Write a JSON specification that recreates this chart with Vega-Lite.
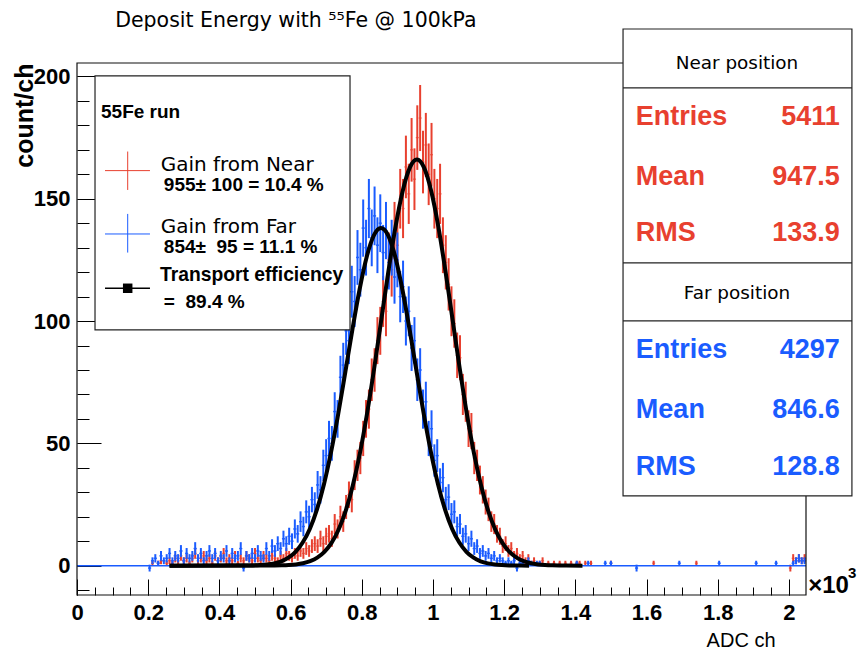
{
"$schema":"https://vega.github.io/schema/vega-lite/v6.json",
"width":729,"height":532,
"autosize":{"type":"none"},
"padding":{"left":77,"top":63,"right":52,"bottom":59},
"background":"white",
"config":{"view":{"stroke":null}},
"resolve":{"axis":{"x":"independent","y":"independent"}},
"datasets":{
"near":[
{"x":212,"y":1,"e":1},{"x":228,"y":1,"e":1},{"x":236,"y":2,"e":1.4},{"x":252,"y":1,"e":1},{"x":260,"y":2,"e":1.4},{"x":268,"y":1,"e":1},{"x":276,"y":3,"e":1.7},{"x":284,"y":2,"e":1.4},{"x":292,"y":4,"e":2},{"x":300,"y":2,"e":1.4},{"x":308,"y":3,"e":1.7},{"x":316,"y":1,"e":1},{"x":324,"y":3,"e":1.7},{"x":332,"y":5,"e":2.2},{"x":340,"y":2,"e":1.4},{"x":348,"y":3,"e":1.7},{"x":356,"y":4,"e":2},{"x":364,"y":2,"e":1.4},{"x":372,"y":3,"e":1.7},{"x":380,"y":1,"e":1},{"x":388,"y":4,"e":2},{"x":396,"y":2,"e":1.4},{"x":404,"y":3,"e":1.7},{"x":412,"y":5,"e":2.2},{"x":420,"y":2,"e":1.4},{"x":428,"y":3,"e":1.7},{"x":436,"y":2,"e":1.4},{"x":444,"y":4,"e":2},{"x":452,"y":1,"e":1},{"x":460,"y":3,"e":1.7},{"x":468,"y":2,"e":1.4},{"x":476,"y":4,"e":2},{"x":484,"y":3,"e":1.7},{"x":492,"y":2,"e":1.4},{"x":500,"y":5,"e":2.2},{"x":508,"y":3,"e":1.7},{"x":516,"y":2,"e":1.4},{"x":524,"y":4,"e":2},{"x":532,"y":3,"e":1.7},{"x":540,"y":2,"e":1.4},{"x":548,"y":4,"e":2},{"x":556,"y":3,"e":1.7},{"x":564,"y":2,"e":1.4},{"x":572,"y":4,"e":2},{"x":580,"y":3,"e":1.7},{"x":588,"y":5,"e":2.2},{"x":596,"y":4,"e":2},{"x":604,"y":3,"e":1.7},{"x":612,"y":5,"e":2.2},{"x":620,"y":4,"e":2},{"x":628,"y":6,"e":2.4},{"x":636,"y":5,"e":2.2},{"x":644,"y":7,"e":2.6},{"x":652,"y":6,"e":2.4},{"x":660,"y":8,"e":2.8},{"x":668,"y":9,"e":3},{"x":676,"y":8,"e":2.8},{"x":684,"y":11,"e":3.3},{"x":692,"y":9,"e":3},{"x":700,"y":12,"e":3.5},{"x":708,"y":13,"e":3.6},{"x":716,"y":11,"e":3.3},{"x":724,"y":17,"e":4.1},{"x":732,"y":15,"e":3.9},{"x":740,"y":20,"e":4.5},{"x":748,"y":18,"e":4.2},{"x":756,"y":24,"e":4.9},{"x":764,"y":29,"e":5.4},{"x":772,"y":27,"e":5.2},{"x":780,"y":37,"e":6.1},{"x":788,"y":41,"e":6.4},{"x":796,"y":44,"e":6.6},{"x":804,"y":52,"e":7.2},{"x":812,"y":60,"e":7.7},{"x":820,"y":64,"e":8},{"x":828,"y":76,"e":8.7},{"x":836,"y":80,"e":8.9},{"x":844,"y":92,"e":9.6},{"x":852,"y":96,"e":9.8},{"x":860,"y":108,"e":10.4},{"x":868,"y":104,"e":10.2},{"x":876,"y":125,"e":11.2},{"x":884,"y":121,"e":11},{"x":892,"y":137,"e":11.7},{"x":900,"y":131,"e":11.4},{"x":908,"y":150,"e":12.2},{"x":916,"y":146,"e":12.1},{"x":924,"y":163,"e":12.8},{"x":932,"y":152,"e":12.3},{"x":940,"y":170,"e":13},{"x":948,"y":158,"e":12.6},{"x":956,"y":175,"e":13.2},{"x":964,"y":183,"e":13.5},{"x":972,"y":165,"e":12.8},{"x":980,"y":172,"e":13.1},{"x":988,"y":160,"e":12.6},{"x":996,"y":168,"e":13},{"x":1004,"y":150,"e":12.2},{"x":1012,"y":146,"e":12.1},{"x":1020,"y":152,"e":12.3},{"x":1028,"y":131,"e":11.4},{"x":1036,"y":124,"e":11.1},{"x":1044,"y":115,"e":10.7},{"x":1052,"y":104,"e":10.2},{"x":1060,"y":99,"e":9.9},{"x":1068,"y":86,"e":9.3},{"x":1076,"y":85,"e":9.2},{"x":1084,"y":70,"e":8.4},{"x":1092,"y":67,"e":8.2},{"x":1100,"y":56,"e":7.5},{"x":1108,"y":55,"e":7.4},{"x":1116,"y":44,"e":6.6},{"x":1124,"y":41,"e":6.4},{"x":1132,"y":35,"e":5.9},{"x":1140,"y":31,"e":5.6},{"x":1148,"y":26,"e":5.1},{"x":1156,"y":23,"e":4.8},{"x":1164,"y":18,"e":4.2},{"x":1172,"y":17,"e":4.1},{"x":1180,"y":13,"e":3.6},{"x":1188,"y":12,"e":3.5},{"x":1196,"y":8,"e":2.8},{"x":1204,"y":9,"e":3},{"x":1212,"y":6,"e":2.4},{"x":1220,"y":7,"e":2.6},{"x":1228,"y":4,"e":2},{"x":1236,"y":5,"e":2.2},{"x":1244,"y":3,"e":1.7},{"x":1252,"y":4,"e":2},{"x":1260,"y":2,"e":1.4},{"x":1268,"y":3,"e":1.7},{"x":1276,"y":1,"e":1},{"x":1284,"y":2,"e":1.4},{"x":1300,"y":1,"e":1},{"x":1308,"y":2,"e":1.4},{"x":1324,"y":1,"e":1},{"x":1340,"y":1,"e":1},{"x":1356,"y":1,"e":1},{"x":1372,"y":1,"e":1},{"x":1388,"y":1,"e":1},{"x":1404,"y":1,"e":1},{"x":1412,"y":1,"e":1},{"x":1428,"y":1,"e":1},{"x":1444,"y":1,"e":1},{"x":1500,"y":1,"e":1},{"x":1620,"y":1,"e":1},{"x":1740,"y":1,"e":1},{"x":2004,"y":-1,"e":1.4},{"x":2012,"y":3,"e":1.7},{"x":2020,"y":2,"e":1.4},{"x":2028,"y":3,"e":1.7},{"x":2036,"y":2,"e":1.4},{"x":2044,"y":3,"e":1.7}
],
"far":[
{"x":204,"y":-1,"e":1.4},{"x":212,"y":2,"e":1.4},{"x":220,"y":3,"e":1.7},{"x":228,"y":1,"e":1},{"x":236,"y":4,"e":2},{"x":244,"y":2,"e":1.4},{"x":252,"y":3,"e":1.7},{"x":260,"y":5,"e":2.2},{"x":268,"y":2,"e":1.4},{"x":276,"y":4,"e":2},{"x":284,"y":3,"e":1.7},{"x":292,"y":6,"e":2.4},{"x":300,"y":2,"e":1.4},{"x":308,"y":5,"e":2.2},{"x":316,"y":3,"e":1.7},{"x":324,"y":4,"e":2},{"x":332,"y":7,"e":2.6},{"x":340,"y":3,"e":1.7},{"x":348,"y":5,"e":2.2},{"x":356,"y":2,"e":1.4},{"x":364,"y":4,"e":2},{"x":372,"y":6,"e":2.4},{"x":380,"y":3,"e":1.7},{"x":388,"y":5,"e":2.2},{"x":396,"y":2,"e":1.4},{"x":404,"y":4,"e":2},{"x":412,"y":3,"e":1.7},{"x":420,"y":6,"e":2.4},{"x":428,"y":2,"e":1.4},{"x":436,"y":5,"e":2.2},{"x":444,"y":3,"e":1.7},{"x":452,"y":4,"e":2},{"x":460,"y":7,"e":2.6},{"x":468,"y":-1,"e":1.4},{"x":476,"y":4,"e":2},{"x":484,"y":3,"e":1.7},{"x":492,"y":5,"e":2.2},{"x":500,"y":3,"e":1.7},{"x":508,"y":6,"e":2.4},{"x":516,"y":4,"e":2},{"x":524,"y":3,"e":1.7},{"x":532,"y":7,"e":2.6},{"x":540,"y":4,"e":2},{"x":548,"y":8,"e":2.8},{"x":556,"y":6,"e":2.4},{"x":564,"y":9,"e":3},{"x":572,"y":7,"e":2.6},{"x":580,"y":11,"e":3.3},{"x":588,"y":9,"e":3},{"x":596,"y":12,"e":3.5},{"x":604,"y":10,"e":3.2},{"x":612,"y":15,"e":3.9},{"x":620,"y":13,"e":3.6},{"x":628,"y":18,"e":4.2},{"x":636,"y":16,"e":4},{"x":644,"y":22,"e":4.7},{"x":652,"y":20,"e":4.5},{"x":660,"y":27,"e":5.2},{"x":668,"y":25,"e":5},{"x":676,"y":33,"e":5.7},{"x":684,"y":31,"e":5.6},{"x":692,"y":41,"e":6.4},{"x":700,"y":45,"e":6.7},{"x":708,"y":52,"e":7.2},{"x":716,"y":50,"e":7.1},{"x":724,"y":63,"e":7.9},{"x":732,"y":60,"e":7.7},{"x":740,"y":77,"e":8.8},{"x":748,"y":82,"e":9.1},{"x":756,"y":96,"e":9.8},{"x":764,"y":92,"e":9.6},{"x":772,"y":112,"e":10.6},{"x":780,"y":108,"e":10.4},{"x":788,"y":126,"e":11.2},{"x":796,"y":121,"e":11},{"x":804,"y":138,"e":11.7},{"x":812,"y":130,"e":11.4},{"x":820,"y":146,"e":12.1},{"x":828,"y":134,"e":11.6},{"x":836,"y":143,"e":12},{"x":844,"y":131,"e":11.4},{"x":852,"y":140,"e":11.8},{"x":860,"y":128,"e":11.3},{"x":868,"y":137,"e":11.7},{"x":876,"y":124,"e":11.1},{"x":884,"y":130,"e":11.4},{"x":892,"y":118,"e":10.9},{"x":900,"y":125,"e":11.2},{"x":908,"y":110,"e":10.5},{"x":916,"y":114,"e":10.7},{"x":924,"y":100,"e":10},{"x":932,"y":104,"e":10.2},{"x":940,"y":89,"e":9.4},{"x":948,"y":92,"e":9.6},{"x":956,"y":76,"e":8.7},{"x":964,"y":80,"e":8.9},{"x":972,"y":64,"e":8},{"x":980,"y":67,"e":8.2},{"x":988,"y":52,"e":7.2},{"x":996,"y":56,"e":7.5},{"x":1004,"y":43,"e":6.6},{"x":1012,"y":45,"e":6.7},{"x":1020,"y":34,"e":5.8},{"x":1028,"y":36,"e":6},{"x":1036,"y":27,"e":5.2},{"x":1044,"y":28,"e":5.3},{"x":1052,"y":21,"e":4.6},{"x":1060,"y":22,"e":4.7},{"x":1068,"y":16,"e":4},{"x":1076,"y":17,"e":4.1},{"x":1084,"y":12,"e":3.5},{"x":1092,"y":13,"e":3.6},{"x":1100,"y":9,"e":3},{"x":1108,"y":11,"e":3.3},{"x":1116,"y":7,"e":2.6},{"x":1124,"y":8,"e":2.8},{"x":1132,"y":5,"e":2.2},{"x":1140,"y":6,"e":2.4},{"x":1148,"y":4,"e":2},{"x":1156,"y":5,"e":2.2},{"x":1164,"y":3,"e":1.7},{"x":1172,"y":4,"e":2},{"x":1180,"y":2,"e":1.4},{"x":1188,"y":3,"e":1.7},{"x":1196,"y":2,"e":1.4},{"x":1204,"y":1,"e":1},{"x":1212,"y":2,"e":1.4},{"x":1220,"y":1,"e":1},{"x":1228,"y":2,"e":1.4},{"x":1236,"y":-1,"e":1.4},{"x":1244,"y":1,"e":1},{"x":1252,"y":1,"e":1},{"x":1268,"y":2,"e":1.4},{"x":1276,"y":1,"e":1},{"x":1292,"y":1,"e":1},{"x":1300,"y":1,"e":1},{"x":1404,"y":1,"e":1},{"x":1436,"y":1,"e":1},{"x":1484,"y":1,"e":1},{"x":1500,"y":1,"e":1},{"x":1572,"y":-1,"e":1.4},{"x":1692,"y":1,"e":1},{"x":1804,"y":1,"e":1},{"x":1908,"y":1,"e":1},{"x":1964,"y":1,"e":1},{"x":2012,"y":1,"e":1},{"x":2020,"y":2,"e":1.4},{"x":2028,"y":3,"e":1.7},{"x":2036,"y":2,"e":1.4},{"x":2044,"y":2,"e":1.4}
],
"fits":[
{"s":"Near","x":260,"y":0},{"s":"Near","x":555,"y":0.06},{"s":"Near","x":575,"y":0.12},{"s":"Near","x":595,"y":0.25},{"s":"Near","x":615,"y":0.51},{"s":"Near","x":635,"y":0.99},{"s":"Near","x":655,"y":1.84},{"s":"Near","x":675,"y":3.29},{"s":"Near","x":695,"y":5.65},{"s":"Near","x":715,"y":9.3},{"s":"Near","x":735,"y":14.8},{"s":"Near","x":755,"y":22.5},{"s":"Near","x":775,"y":32.9},{"s":"Near","x":795,"y":46.1},{"s":"Near","x":815,"y":62.3},{"s":"Near","x":835,"y":80.8},{"s":"Near","x":855,"y":100.7},{"s":"Near","x":875,"y":120.5},{"s":"Near","x":895,"y":138.7},{"s":"Near","x":915,"y":153.2},{"s":"Near","x":935,"y":162.7},{"s":"Near","x":955,"y":166},{"s":"Near","x":975,"y":162.7},{"s":"Near","x":995,"y":153.2},{"s":"Near","x":1015,"y":138.7},{"s":"Near","x":1035,"y":120.5},{"s":"Near","x":1055,"y":100.7},{"s":"Near","x":1075,"y":80.8},{"s":"Near","x":1095,"y":62.3},{"s":"Near","x":1115,"y":46.1},{"s":"Near","x":1135,"y":32.9},{"s":"Near","x":1155,"y":22.5},{"s":"Near","x":1175,"y":14.8},{"s":"Near","x":1195,"y":9.3},{"s":"Near","x":1215,"y":5.65},{"s":"Near","x":1235,"y":3.29},{"s":"Near","x":1255,"y":1.84},{"s":"Near","x":1275,"y":0.99},{"s":"Near","x":1295,"y":0.51},{"s":"Near","x":1315,"y":0.25},{"s":"Near","x":1335,"y":0.12},{"s":"Near","x":1355,"y":0.06},{"s":"Near","x":1420,"y":0},
{"s":"Far","x":260,"y":0},{"s":"Far","x":474,"y":0.05},{"s":"Far","x":494,"y":0.1},{"s":"Far","x":514,"y":0.23},{"s":"Far","x":534,"y":0.47},{"s":"Far","x":554,"y":0.94},{"s":"Far","x":574,"y":1.79},{"s":"Far","x":594,"y":3.26},{"s":"Far","x":614,"y":5.67},{"s":"Far","x":634,"y":9.45},{"s":"Far","x":654,"y":15},{"s":"Far","x":674,"y":22.9},{"s":"Far","x":694,"y":33.4},{"s":"Far","x":714,"y":46.6},{"s":"Far","x":734,"y":62.1},{"s":"Far","x":754,"y":79.3},{"s":"Far","x":774,"y":96.8},{"s":"Far","x":794,"y":113},{"s":"Far","x":814,"y":126.3},{"s":"Far","x":834,"y":135},{"s":"Far","x":854,"y":138},{"s":"Far","x":874,"y":135},{"s":"Far","x":894,"y":126.3},{"s":"Far","x":914,"y":113},{"s":"Far","x":934,"y":96.8},{"s":"Far","x":954,"y":79.3},{"s":"Far","x":974,"y":62.1},{"s":"Far","x":994,"y":46.6},{"s":"Far","x":1014,"y":33.4},{"s":"Far","x":1034,"y":22.9},{"s":"Far","x":1054,"y":15},{"s":"Far","x":1074,"y":9.45},{"s":"Far","x":1094,"y":5.67},{"s":"Far","x":1114,"y":3.26},{"s":"Far","x":1134,"y":1.79},{"s":"Far","x":1154,"y":0.94},{"s":"Far","x":1174,"y":0.47},{"s":"Far","x":1194,"y":0.23},{"s":"Far","x":1214,"y":0.1},{"s":"Far","x":1234,"y":0.05},{"s":"Far","x":1270,"y":0}
]
},
"layer":[
{"data":{"name":"near"},"mark":{"type":"tick","orient":"horizontal","size":3,"thickness":1.3,"color":"#e8402f"},
 "encoding":{
  "x":{"field":"x","type":"quantitative","scale":{"domain":[0,2048],"nice":false,"zero":false},
   "axis":{"orient":"bottom","values":[0,200,400,600,800,1000,1200,1400,1600,1800,2000],
    "labelExpr":"'' + datum.value/1000",
    "tickSize":-16,"tickColor":"#000","tickWidth":1,"domain":false,"grid":false,
    "labelFont":"Liberation Sans","labelFontSize":22,"labelFontWeight":"bold","labelColor":"#000","labelPadding":23.5,
    "labelFlush":false,"labelOverlap":false,"labelBound":false,
    "title":"ADC ch","titleFont":"Liberation Sans","titleFontSize":20,"titleFontWeight":"normal","titleColor":"#000",
    "titleAlign":"right","titleBaseline":"middle","titleX":698,"titleY":45}},
  "y":{"field":"y","type":"quantitative","scale":{"domain":[-12,205.5],"nice":false,"zero":false},
   "axis":{"orient":"left","values":[0,50,100,150,200],
    "tickSize":-24,"tickColor":"#000","tickWidth":1,"domain":false,"grid":false,
    "labelFont":"Liberation Sans","labelFontSize":22,"labelFontWeight":"bold","labelColor":"#000","labelPadding":31,
    "labelOverlap":false,"labelBound":false,"labelFlush":false,
    "title":"count/ch","titleFont":"Liberation Sans","titleFontSize":25,"titleFontWeight":"bold","titleColor":"#000",
    "titleAnchor":"end","titleBaseline":"alphabetic","titlePadding":1}}}},
{"data":{"name":"far"},"mark":{"type":"tick","orient":"horizontal","size":3,"thickness":1.3,"color":"#1a5cff"},
 "encoding":{
  "x":{"field":"x","type":"quantitative",
   "axis":{"orient":"bottom","values":[0,50,100,150,200,250,300,350,400,450,500,550,600,650,700,750,800,850,900,950,1000,1050,1100,1150,1200,1250,1300,1350,1400,1450,1500,1550,1600,1650,1700,1750,1800,1850,1900,1950,2000],
    "tickSize":-8,"tickColor":"#000","tickWidth":1,"domain":false,"grid":false,"labels":false,"title":null}},
  "y":{"field":"y","type":"quantitative",
   "axis":{"orient":"left","values":[-10,0,10,20,30,40,50,60,70,80,90,100,110,120,130,140,150,160,170,180,190,200],
    "tickSize":-12,"tickColor":"#000","tickWidth":1,"domain":false,"grid":false,"labels":false,"title":null}}}},
{"data":{"name":"near"},"mark":{"type":"errorbar","color":"#e8402f","thickness":2},
 "encoding":{"x":{"field":"x","type":"quantitative","axis":null},"y":{"field":"y","type":"quantitative","axis":null},"yError":{"field":"e"}}},
{"data":{"values":[{}]},"mark":{"type":"rule","color":"#1a5cff","strokeWidth":1.5},
 "encoding":{"x":{"datum":0,"type":"quantitative","axis":null},"x2":{"datum":2048},"y":{"datum":0,"type":"quantitative","axis":null}}},
{"data":{"name":"far"},"mark":{"type":"errorbar","color":"#1a5cff","thickness":2},
 "encoding":{"x":{"field":"x","type":"quantitative","axis":null},"y":{"field":"y","type":"quantitative","axis":null},"yError":{"field":"e"}}},
{"data":{"name":"far"},"mark":{"type":"tick","orient":"horizontal","size":3,"thickness":1.3,"color":"#1a5cff"},
 "encoding":{"x":{"field":"x","type":"quantitative","axis":null},"y":{"field":"y","type":"quantitative","axis":null}}},
{"data":{"name":"fits"},"mark":{"type":"line","color":"#000","strokeWidth":4,"interpolate":"monotone"},
 "encoding":{"x":{"field":"x","type":"quantitative","axis":null},"y":{"field":"y","type":"quantitative","axis":null},"detail":{"field":"s"}}},
{"data":{"values":[{}]},"mark":{"type":"rect","fill":"#fff","fillOpacity":0,"stroke":"#111","strokeWidth":1.2},
 "encoding":{"x":{"datum":0,"type":"quantitative","axis":null},"x2":{"datum":2048},"y":{"datum":-12,"type":"quantitative","axis":null},"y2":{"datum":205.5}}},
{"data":{"values":[{}]},"mark":{"type":"text","text":"Deposit Energy with ⁵⁵Fe @ 100kPa","font":"DejaVu Sans","fontSize":20.5,"color":"#000","align":"center","baseline":"middle"},
 "encoding":{"x":{"datum":615,"type":"quantitative","axis":null},"y":{"datum":222.8,"type":"quantitative","axis":null}}},
{"data":{"values":[{}]},"mark":{"type":"rect","fill":"#fff","stroke":"#222","strokeWidth":1.2},
 "encoding":{"x":{"datum":50.6,"type":"quantitative","axis":null},"x2":{"datum":767},"y":{"datum":96.4,"type":"quantitative","axis":null},"y2":{"datum":200.2}}},
{"data":{"values":[{}]},"mark":{"type":"text","text":"55Fe run","font":"Liberation Sans","fontSize":19,"fontWeight":"bold","color":"#000","align":"left","baseline":"middle"},
 "encoding":{"x":{"datum":67.4,"type":"quantitative","axis":null},"y":{"datum":185.5,"type":"quantitative","axis":null}}},
{"data":{"values":[{}]},"mark":{"type":"rule","color":"#e8402f","strokeWidth":1},
 "encoding":{"x":{"datum":78.7,"type":"quantitative","axis":null},"x2":{"datum":205},"y":{"datum":161.5,"type":"quantitative","axis":null}}},
{"data":{"values":[{}]},"mark":{"type":"rule","color":"#e8402f","strokeWidth":1},
 "encoding":{"x":{"datum":142.4,"type":"quantitative","axis":null},"y":{"datum":153.6,"type":"quantitative","axis":null},"y2":{"datum":169.3}}},
{"data":{"values":[{}]},"mark":{"type":"text","text":"Gain from Near","font":"DejaVu Sans","fontSize":20,"color":"#000","align":"left","baseline":"middle"},
 "encoding":{"x":{"datum":235,"type":"quantitative","axis":null},"y":{"datum":163.8,"type":"quantitative","axis":null}}},
{"data":{"values":[{}]},"mark":{"type":"text","text":"955± 100 = 10.4 %","font":"Liberation Sans","fontSize":19,"fontWeight":"bold","color":"#000","align":"left","baseline":"middle"},
 "encoding":{"x":{"datum":244,"type":"quantitative","axis":null},"y":{"datum":155.6,"type":"quantitative","axis":null}}},
{"data":{"values":[{}]},"mark":{"type":"rule","color":"#1a5cff","strokeWidth":1},
 "encoding":{"x":{"datum":78.7,"type":"quantitative","axis":null},"x2":{"datum":205},"y":{"datum":135.6,"type":"quantitative","axis":null}}},
{"data":{"values":[{}]},"mark":{"type":"rule","color":"#1a5cff","strokeWidth":1},
 "encoding":{"x":{"datum":142.4,"type":"quantitative","axis":null},"y":{"datum":128,"type":"quantitative","axis":null},"y2":{"datum":143.8}}},
{"data":{"values":[{}]},"mark":{"type":"text","text":"Gain from Far","font":"DejaVu Sans","fontSize":20,"color":"#000","align":"left","baseline":"middle"},
 "encoding":{"x":{"datum":235,"type":"quantitative","axis":null},"y":{"datum":138.6,"type":"quantitative","axis":null}}},
{"data":{"values":[{}]},"mark":{"type":"text","text":"854±\u00a0\u00a095 = 11.1 %","font":"Liberation Sans","fontSize":19,"fontWeight":"bold","color":"#000","align":"left","baseline":"middle"},
 "encoding":{"x":{"datum":244,"type":"quantitative","axis":null},"y":{"datum":130.4,"type":"quantitative","axis":null}}},
{"data":{"values":[{}]},"mark":{"type":"rule","color":"#000","strokeWidth":1.5},
 "encoding":{"x":{"datum":78.7,"type":"quantitative","axis":null},"x2":{"datum":205},"y":{"datum":113.4,"type":"quantitative","axis":null}}},
{"data":{"values":[{}]},"mark":{"type":"point","shape":"square","filled":true,"size":90,"color":"#000","opacity":1},
 "encoding":{"x":{"datum":142.4,"type":"quantitative","axis":null},"y":{"datum":113.4,"type":"quantitative","axis":null}}},
{"data":{"values":[{}]},"mark":{"type":"text","text":"Transport efficiency","font":"Liberation Sans","fontSize":19.3,"fontWeight":"bold","color":"#000","align":"left","baseline":"middle"},
 "encoding":{"x":{"datum":233,"type":"quantitative","axis":null},"y":{"datum":118.8,"type":"quantitative","axis":null}}},
{"data":{"values":[{}]},"mark":{"type":"text","text":"=\u00a0\u00a089.4 %","font":"Liberation Sans","fontSize":19,"fontWeight":"bold","color":"#000","align":"left","baseline":"middle"},
 "encoding":{"x":{"datum":244,"type":"quantitative","axis":null},"y":{"datum":107.9,"type":"quantitative","axis":null}}},
{"data":{"values":[{}]},"mark":{"type":"rect","fill":"#fff","stroke":"#222","strokeWidth":1.2},
 "encoding":{"x":{"datum":1534,"type":"quantitative","axis":null},"x2":{"datum":2177},"y":{"datum":28.5,"type":"quantitative","axis":null},"y2":{"datum":219.4}}},
{"data":{"values":[{}]},"mark":{"type":"rule","color":"#222","strokeWidth":1.2},
 "encoding":{"x":{"datum":1534,"type":"quantitative","axis":null},"x2":{"datum":2177},"y":{"datum":195.3,"type":"quantitative","axis":null}}},
{"data":{"values":[{}]},"mark":{"type":"rule","color":"#222","strokeWidth":1.2},
 "encoding":{"x":{"datum":1534,"type":"quantitative","axis":null},"x2":{"datum":2177},"y":{"datum":123.8,"type":"quantitative","axis":null}}},
{"data":{"values":[{}]},"mark":{"type":"rule","color":"#222","strokeWidth":1.2},
 "encoding":{"x":{"datum":1534,"type":"quantitative","axis":null},"x2":{"datum":2177},"y":{"datum":100.1,"type":"quantitative","axis":null}}},
{"data":{"values":[{}]},"mark":{"type":"text","text":"Near position","font":"DejaVu Sans","fontSize":18.4,"color":"#000","align":"center","baseline":"middle"},
 "encoding":{"x":{"datum":1854,"type":"quantitative","axis":null},"y":{"datum":205.5,"type":"quantitative","axis":null}}},
{"data":{"values":[{}]},"mark":{"type":"text","text":"Entries","font":"Liberation Sans","fontSize":27,"fontWeight":"bold","color":"#e8402f","align":"left","baseline":"middle"},
 "encoding":{"x":{"datum":1570,"type":"quantitative","axis":null},"y":{"datum":183.4,"type":"quantitative","axis":null}}},
{"data":{"values":[{}]},"mark":{"type":"text","text":"5411","font":"Liberation Sans","fontSize":27,"fontWeight":"bold","color":"#e8402f","align":"right","baseline":"middle"},
 "encoding":{"x":{"datum":2143,"type":"quantitative","axis":null},"y":{"datum":183.4,"type":"quantitative","axis":null}}},
{"data":{"values":[{}]},"mark":{"type":"text","text":"Mean","font":"Liberation Sans","fontSize":27,"fontWeight":"bold","color":"#e8402f","align":"left","baseline":"middle"},
 "encoding":{"x":{"datum":1570,"type":"quantitative","axis":null},"y":{"datum":158.9,"type":"quantitative","axis":null}}},
{"data":{"values":[{}]},"mark":{"type":"text","text":"947.5","font":"Liberation Sans","fontSize":27,"fontWeight":"bold","color":"#e8402f","align":"right","baseline":"middle"},
 "encoding":{"x":{"datum":2143,"type":"quantitative","axis":null},"y":{"datum":158.9,"type":"quantitative","axis":null}}},
{"data":{"values":[{}]},"mark":{"type":"text","text":"RMS","font":"Liberation Sans","fontSize":27,"fontWeight":"bold","color":"#e8402f","align":"left","baseline":"middle"},
 "encoding":{"x":{"datum":1570,"type":"quantitative","axis":null},"y":{"datum":136,"type":"quantitative","axis":null}}},
{"data":{"values":[{}]},"mark":{"type":"text","text":"133.9","font":"Liberation Sans","fontSize":27,"fontWeight":"bold","color":"#e8402f","align":"right","baseline":"middle"},
 "encoding":{"x":{"datum":2143,"type":"quantitative","axis":null},"y":{"datum":136,"type":"quantitative","axis":null}}},
{"data":{"values":[{}]},"mark":{"type":"text","text":"Far position","font":"DejaVu Sans","fontSize":18.4,"color":"#000","align":"center","baseline":"middle"},
 "encoding":{"x":{"datum":1854,"type":"quantitative","axis":null},"y":{"datum":111.5,"type":"quantitative","axis":null}}},
{"data":{"values":[{}]},"mark":{"type":"text","text":"Entries","font":"Liberation Sans","fontSize":27,"fontWeight":"bold","color":"#1a5cff","align":"left","baseline":"middle"},
 "encoding":{"x":{"datum":1570,"type":"quantitative","axis":null},"y":{"datum":88.2,"type":"quantitative","axis":null}}},
{"data":{"values":[{}]},"mark":{"type":"text","text":"4297","font":"Liberation Sans","fontSize":27,"fontWeight":"bold","color":"#1a5cff","align":"right","baseline":"middle"},
 "encoding":{"x":{"datum":2143,"type":"quantitative","axis":null},"y":{"datum":88.2,"type":"quantitative","axis":null}}},
{"data":{"values":[{}]},"mark":{"type":"text","text":"Mean","font":"Liberation Sans","fontSize":27,"fontWeight":"bold","color":"#1a5cff","align":"left","baseline":"middle"},
 "encoding":{"x":{"datum":1570,"type":"quantitative","axis":null},"y":{"datum":63.7,"type":"quantitative","axis":null}}},
{"data":{"values":[{}]},"mark":{"type":"text","text":"846.6","font":"Liberation Sans","fontSize":27,"fontWeight":"bold","color":"#1a5cff","align":"right","baseline":"middle"},
 "encoding":{"x":{"datum":2143,"type":"quantitative","axis":null},"y":{"datum":63.7,"type":"quantitative","axis":null}}},
{"data":{"values":[{}]},"mark":{"type":"text","text":"RMS","font":"Liberation Sans","fontSize":27,"fontWeight":"bold","color":"#1a5cff","align":"left","baseline":"middle"},
 "encoding":{"x":{"datum":1570,"type":"quantitative","axis":null},"y":{"datum":40.4,"type":"quantitative","axis":null}}},
{"data":{"values":[{}]},"mark":{"type":"text","text":"128.8","font":"Liberation Sans","fontSize":27,"fontWeight":"bold","color":"#1a5cff","align":"right","baseline":"middle"},
 "encoding":{"x":{"datum":2143,"type":"quantitative","axis":null},"y":{"datum":40.4,"type":"quantitative","axis":null}}},
{"data":{"values":[{}]},"mark":{"type":"text","text":"×10","font":"Liberation Sans","fontSize":24,"fontWeight":"bold","color":"#000","align":"left","baseline":"middle"},
 "encoding":{"x":{"datum":2054,"type":"quantitative","axis":null},"y":{"datum":-8.5,"type":"quantitative","axis":null}}},
{"data":{"values":[{}]},"mark":{"type":"text","text":"3","font":"Liberation Sans","fontSize":15,"fontWeight":"bold","color":"#000","align":"left","baseline":"middle"},
 "encoding":{"x":{"datum":2166,"type":"quantitative","axis":null},"y":{"datum":-3,"type":"quantitative","axis":null}}}
]
}
